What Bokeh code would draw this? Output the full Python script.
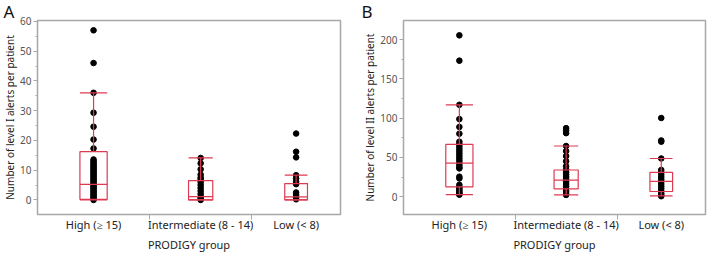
from bokeh.plotting import figure
from bokeh.layouts import row
from bokeh.models import FixedTicker, SingleIntervalTicker, Range1d
from bokeh.embed import file_html
from bokeh.resources import INLINE

groups = ["High (\u2265 15)", "Intermediate (8 - 14)", "Low (< 8)"]

# ---- Panel A: level I alerts per patient ----
a_high = [57, 46, 36, 29.3, 24.6, 20.3, 17.3, 13.6, 13, 12.5, 12, 11.5, 11, 10.5, 10,
          9.5, 9, 8.5, 8, 7.5, 7, 6.5, 6, 5.5, 5, 4.5, 4, 3.5, 3, 2.5, 2, 1.5, 1, 0.5, 0]
a_inter = [14.1, 12.3, 10.3, 8.5, 7.5, 7, 6, 5, 4, 3, 2, 1, 0.5, 0]
a_low = [22.3, 16.2, 14.3, 8.3, 7.2, 6.1, 5.3, 2.5, 1.7, 0.8, 0.2]
a_q1 = [0.2, 0.0, 0.0]
a_med = [5.2, 1.1, 1.0]
a_q3 = [16.2, 6.5, 5.5]
a_lo = [0.0, 0.0, 0.0]
a_hi = [36.0, 14.1, 8.3]

# ---- Panel B: level II alerts per patient ----
b_high = [205.6, 173.3, 117, 98.8, 88.8, 80.2, 69.9, 67, 64, 61, 58, 55, 52, 49, 46, 43,
          40, 37, 36, 25.4, 23.2, 15, 12, 10, 8, 6, 4.5, 3, 2.5]
b_inter = [87.3, 84.5, 80.9, 64.5, 58, 51.6, 45, 38.7, 34.4, 31, 28, 25, 22, 19, 16,
           13, 10, 7, 4.5, 2.2]
b_low = [100.2, 71.6, 70, 48.6, 34, 31, 28, 25, 22, 19, 16, 13, 10, 7, 4, 2, 0.5]
b_q1 = [12.5, 9.9, 6.5]
b_med = [42.7, 21.0, 19.4]
b_q3 = [66.5, 33.9, 31.0]
b_lo = [2.6, 2.2, 0.9]
b_hi = [116.9, 64.5, 48.6]

# layout constants (category widths on the x axis, box widths)
BOUNDS = [0.0, 0.37, 0.707, 1.0]
CENTERS = [(BOUNDS[i] + BOUNDS[i + 1]) / 2 for i in range(3)]
BOXW = [0.09, 0.08, 0.075]
RED = "#de3a52"
GRAY = "#a8a8a8"
FONT = "Noto Sans"


def make_panel(letter, ylabel, pts, q1, med, q3, lo, hi, yr, interval, bl, br, toff):
    p = figure(width=354, height=255, x_range=Range1d(0, 1), y_range=Range1d(*yr),
               output_backend="svg", toolbar_location=None,
               min_border_left=bl, min_border_right=br, min_border_top=0,
               min_border_bottom=41)
    p.grid.visible = False
    p.outline_line_color = GRAY
    p.outline_line_width = 1.5
    p.background_fill_color = "white"
    p.border_fill_color = "white"

    # panel letter as the figure title
    p.title.text = letter
    p.title.align = "left"
    p.title.offset = toff
    p.title.standoff = -5
    p.title.text_font = FONT
    p.title.text_font_size = "17px"
    p.title.text_font_style = "normal"
    p.title.text_color = "#111111"

    for i, vals in enumerate(pts):
        p.scatter([CENTERS[i]] * len(vals), vals, size=5.6, color="black")

    lefts = [CENTERS[i] - BOXW[i] / 2 for i in range(3)]
    rights = [CENTERS[i] + BOXW[i] / 2 for i in range(3)]
    p.quad(left=lefts, right=rights, bottom=q1, top=q3, fill_color=None,
           line_color=RED, line_width=1.2)
    p.segment(x0=lefts, x1=rights, y0=med, y1=med, line_color=RED, line_width=1.2)
    p.segment(x0=CENTERS, x1=CENTERS, y0=q3, y1=hi, line_color=RED, line_width=1.2)
    p.segment(x0=CENTERS, x1=CENTERS, y0=q1, y1=lo, line_color=RED, line_width=1.2)
    p.segment(x0=lefts, x1=rights, y0=hi, y1=hi, line_color=RED, line_width=1.2)
    p.segment(x0=lefts, x1=rights, y0=lo, y1=lo, line_color=RED, line_width=1.2)

    ya = p.yaxis[0]
    ya.ticker = SingleIntervalTicker(interval=interval, num_minor_ticks=2)
    ya.axis_label = ylabel
    ya.axis_line_color = GRAY
    ya.major_tick_line_color = GRAY
    ya.minor_tick_line_color = GRAY
    ya.major_tick_out = 4
    ya.major_tick_in = 0
    ya.minor_tick_out = 2
    ya.minor_tick_in = 0
    ya.major_label_standoff = 2
    ya.major_label_text_font = FONT
    ya.major_label_text_font_size = "10px"
    ya.major_label_text_color = "#555555"
    ya.axis_label_text_font = FONT
    ya.axis_label_text_font_size = "10px"
    ya.axis_label_text_font_style = "normal"
    ya.axis_label_text_color = "#222222"
    ya.axis_label_standoff = 0

    xa = p.xaxis[0]
    xa.ticker = FixedTicker(ticks=CENTERS, minor_ticks=BOUNDS[1:3])
    xa.major_label_overrides = {CENTERS[i]: groups[i] for i in range(3)}
    xa.axis_label = "PRODIGY group"
    xa.axis_line_color = GRAY
    xa.major_tick_line_color = None
    xa.major_tick_out = 0
    xa.major_tick_in = 0
    xa.minor_tick_line_color = GRAY
    xa.minor_tick_out = 5
    xa.minor_tick_in = 0
    xa.major_label_standoff = -3
    xa.major_label_text_font = FONT
    xa.major_label_text_font_size = "11px"
    xa.major_label_text_color = "#222222"
    xa.axis_label_text_font = FONT
    xa.axis_label_text_font_size = "11px"
    xa.axis_label_text_font_style = "normal"
    xa.axis_label_text_color = "#222222"
    xa.axis_label_standoff = 2
    return p


pA = make_panel("A", "Number of level I alerts per patient",
                [a_high, a_inter, a_low], a_q1, a_med, a_q3, a_lo, a_hi,
                (-4.9, 60.3), 10, 37, 14, -34)
pB = make_panel("B", "Number of level II alerts per patient",
                [b_high, b_inter, b_low], b_q1, b_med, b_q3, b_lo, b_hi,
                (-22.8, 224.5), 50, 49, 3, -42)

layout = row(pA, pB)
open("out.html", "w").write(file_html(layout, INLINE))
